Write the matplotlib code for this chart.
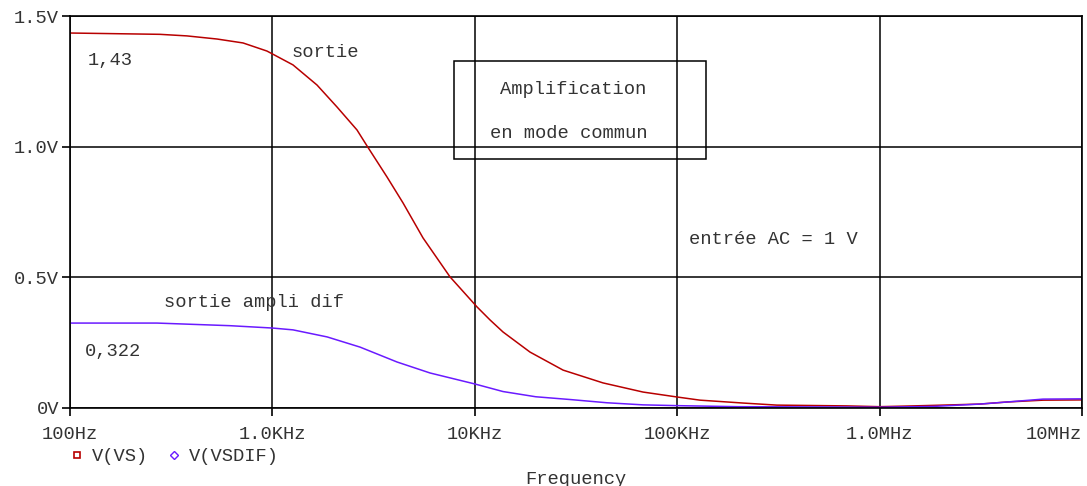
import matplotlib.pyplot as plt
from matplotlib.lines import Line2D
from matplotlib.patches import Rectangle

# V(VS) - sortie (red)
freq_vs = [100, 278, 378, 533, 716, 940, 1000, 1264, 1661, 2085, 2618, 2934, 3684,
           4418, 5547, 7539, 10250, 11890, 13780, 18740, 27300, 43000, 67800,
           100000, 129600, 211000, 311000, 690000, 1000000, 1460000, 1840000,
           3130000, 4270000, 6420000, 10000000]
v_vs = [1.435, 1.43, 1.424, 1.412, 1.397, 1.366, 1.355, 1.313, 1.236, 1.152, 1.064,
        1.003, 0.884, 0.785, 0.651, 0.502, 0.387, 0.337, 0.291, 0.214, 0.145, 0.096,
        0.061, 0.042, 0.030, 0.019, 0.011, 0.008, 0.005, 0.008, 0.010, 0.015, 0.023,
        0.030, 0.031]

# V(VSDIF) - sortie ampli dif (blue)
freq_dif = [100, 269, 617, 1000, 1264, 1864, 2711, 4129, 6010, 10000, 13780,
            20000, 30000, 45000, 67800, 100000, 200000, 500000, 1000000, 1840000,
            3130000, 4270000, 6420000, 10000000]
v_dif = [0.325, 0.325, 0.315, 0.306, 0.299, 0.272, 0.233, 0.176, 0.134, 0.092, 0.063,
         0.043, 0.032, 0.02, 0.012, 0.009, 0.005, 0.004, 0.003, 0.006, 0.015, 0.023,
         0.034, 0.035]

x_ticks = [100, 1e3, 1e4, 1e5, 1e6, 1e7]
x_labels = ['100Hz', '1.0KHz', '10KHz', '100KHz', '1.0MHz', '10MHz']
y_ticks = [0, 0.5, 1.0, 1.5]
y_labels = ['0V', '0.5V', '1.0V', '1.5V']

red = '#B80000'
blue = '#6A1AFF'
txt = '#333333'
fs = 13.5
plt.rcParams['font.family'] = ['Liberation Mono', 'DejaVu Sans Mono']

fig = plt.figure(figsize=(10.87, 4.86), dpi=100)
ax = fig.add_axes([0.0644, 0.1605, 0.931, 0.8065])

ax.plot(freq_vs, v_vs, color=red, lw=1.1)
ax.plot(freq_dif, v_dif, color=blue, lw=1.1)

ax.set_xscale('log')
ax.set_xlim(100, 1e7)
ax.set_ylim(0, 1.5)
ax.set_xticks(x_ticks)
ax.set_xticklabels(x_labels)
ax.minorticks_off()
ax.set_yticks(y_ticks)
ax.set_yticklabels(y_labels)
ax.get_xticklabels()[-1].set_ha('right')
ax.tick_params(direction='out', length=6, width=1.2, colors='black',
               labelcolor=txt, labelsize=fs)
ax.tick_params(axis='x', pad=7)
ax.tick_params(axis='y', pad=2)
ax.grid(True, color='black', lw=1.1)
for s in ax.spines.values():
    s.set_linewidth(1.2)

ax.set_xlabel('Frequency', fontsize=fs, color=txt, labelpad=20)

# annotations
ax.text(122.7, 1.328, '1,43', fontsize=fs, color=txt, va='center')
ax.text(1236, 1.362, 'sortie', fontsize=fs, color=txt, va='center')
ax.text(30600, 1.217, 'Amplification', fontsize=fs, color=txt, va='center', ha='center')
ax.text(29200, 1.052, 'en mode commun', fontsize=fs, color=txt, va='center', ha='center')
ax.text(114000, 0.643, 'entrée AC = 1 V', fontsize=fs, color=txt, va='center')
ax.text(291, 0.402, 'sortie ampli dif', fontsize=fs, color=txt, va='center')
ax.text(118.6, 0.218, '0,322', fontsize=fs, color=txt, va='center')

ax.add_patch(Rectangle((7890, 0.953), 138800 - 7890, 1.328 - 0.953,
                       fill=False, ec='black', lw=1.1, zorder=3))

handles = [Line2D([], [], ls='none', marker='s', ms=5, mfc='none', mec=red, mew=1.2),
           Line2D([], [], ls='none', marker='D', ms=4, mfc='none', mec=blue, mew=1.0)]
leg = fig.legend(handles, ['V(VS)', 'V(VSDIF)'], loc='center left',
                 bbox_to_anchor=(0.055, 0.06), ncol=2, frameon=False,
                 fontsize=fs, handlelength=0.8, handletextpad=0.4,
                 columnspacing=1.0, borderpad=0)
for t in leg.get_texts():
    t.set_color(txt)

fig.savefig('out.png', dpi=100)
